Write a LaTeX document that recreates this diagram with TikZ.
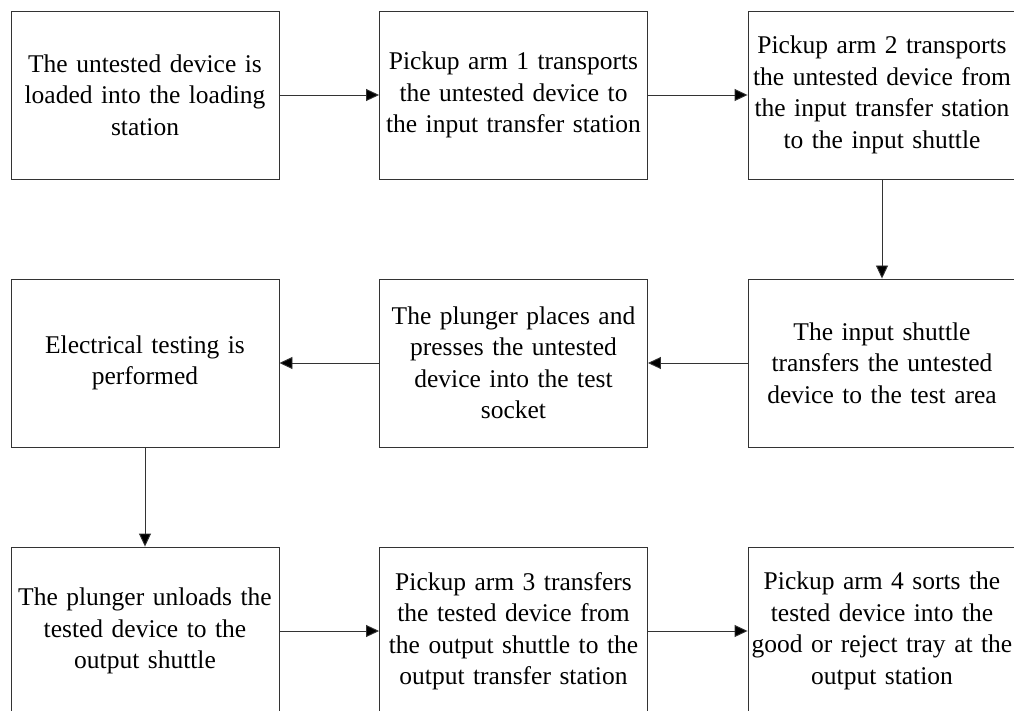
\documentclass[tikz,border=0pt]{standalone}
\usepackage{fontspec}
\setmainfont{Liberation Serif}
\usetikzlibrary{arrows.meta}
\tikzset{
  stepbox/.style={draw=black!80, line width=0.9pt, minimum width=268pt, minimum height=168pt,
    text width=264pt, align=center, inner sep=0pt,
    font=\fontsize{25.5}{31.5}\selectfont},
  flow/.style={draw=black!80, line width=0.9pt, -{Triangle[length=13pt,width=12pt,fill=black]}}
}
\begin{document}
\begin{tikzpicture}[x=1pt,y=-1pt]
\clip (0,0) rectangle (1014,711);
\fill[white] (0,0) rectangle (1014,711);
% first row
\node[stepbox] (s1) at (145,95) {The untested device is\\loaded into the loading\\station};
\node[stepbox] (s2) at (513.5,95) {Pickup arm 1 transports\\the untested device to\\the input transfer station};
\node[stepbox] (s3) at (882,95) {Pickup arm 2 transports\\the untested device from\\the input transfer station\\to the input shuttle};
% second row
\node[stepbox] (s4) at (145,363) {Electrical testing is\\performed};
\node[stepbox] (s5) at (513.5,363) {The plunger places and\\presses the untested\\device into the test\\socket};
\node[stepbox] (s6) at (882,363) {The input shuttle\\transfers the untested\\device to the test area};
% third row
\node[stepbox] (s7) at (145,631) {The plunger unloads the\\tested device to the\\output shuttle};
\node[stepbox] (s8) at (513.5,631) {Pickup arm 3 transfers\\the tested device from\\the output shuttle to the\\output transfer station};
\node[stepbox] (s9) at (882,631) {Pickup arm 4 sorts the\\tested device into the\\good or reject tray at the\\output station};
% connectors
\draw[flow] (s1) -- (s2);
\draw[flow] (s2) -- (s3);
\draw[flow] (s3) -- (s6);
\draw[flow] (s6) -- (s5);
\draw[flow] (s5) -- (s4);
\draw[flow] (s4) -- (s7);
\draw[flow] (s7) -- (s8);
\draw[flow] (s8) -- (s9);
\end{tikzpicture}
\end{document}
